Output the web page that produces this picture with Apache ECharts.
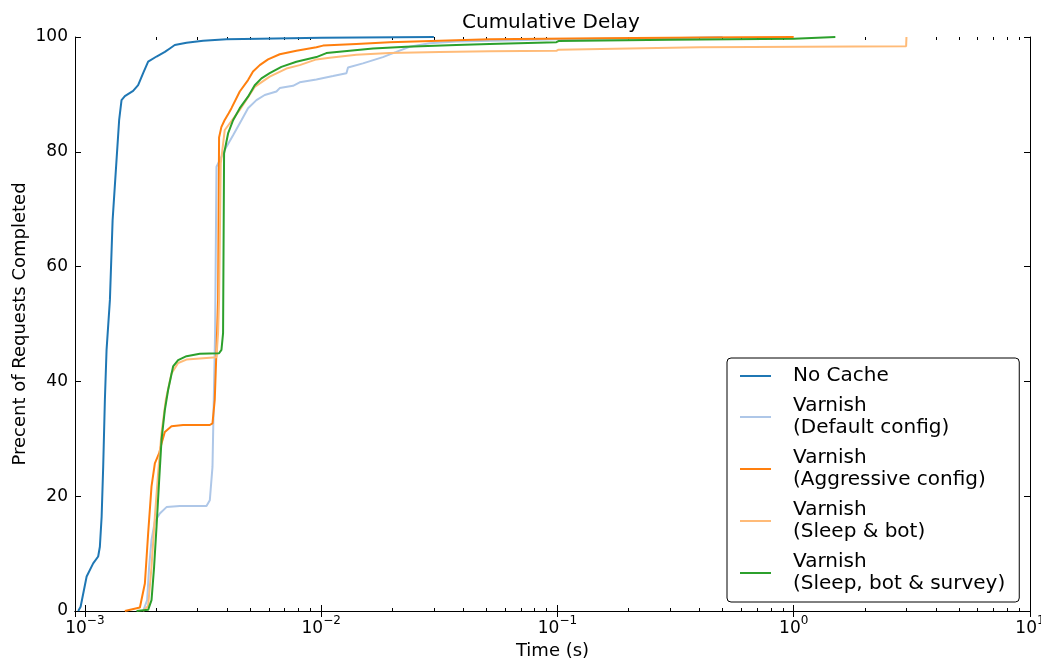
<!DOCTYPE html>
<html>
<head>
<meta charset="utf-8">
<title>Cumulative Delay</title>
<script src="https://cdn.jsdelivr.net/npm/echarts@6/dist/echarts.min.js"></script>
<style>
  html, body { margin: 0; padding: 0; background: #ffffff; }
  #chart { width: 1041px; height: 659px; }
</style>
</head>
<body>
<div id="chart"></div>
<script>
// Series names (as shown in the legend)
const seriesNames = [
  'No Cache',
  'Varnish\n(Default config)',
  'Varnish\n(Aggressive config)',
  'Varnish\n(Sleep & bot)',
  'Varnish\n(Sleep, bot & survey)'
];
const seriesColors = ['#1f77b4', '#aec7e8', '#ff7f0e', '#ffbb78', '#2ca02c'];

// Cumulative distributions: delay in seconds and percent of requests completed
const noCacheTime = [0.000937, 0.000959, 0.001017, 0.001084, 0.001138, 0.001157, 0.001177, 0.001195,
  0.001215, 0.001235, 0.001276, 0.001310, 0.001361, 0.001396, 0.001429, 0.001476, 0.001600,
  0.001680, 0.001764, 0.001852, 0.002010, 0.002180, 0.002288, 0.002401, 0.002692, 0.003164,
  0.003974, 0.005495, 0.0100, 0.0300];
const noCachePct = [0, 0.75, 6.0, 8.3, 9.5, 11.2, 16.4, 25.1,
  36.8, 45.5, 54.2, 68.1, 78.6, 85.5, 89.0, 89.7, 90.6,
  91.6, 93.7, 95.7, 96.6, 97.4, 98.0, 98.6, 99.0, 99.36,
  99.6, 99.7, 99.85, 100];

const defaultTime = [0.001764, 0.001834, 0.001870, 0.001914, 0.001977, 0.002075, 0.002215, 0.002522,
  0.003270, 0.003378, 0.003467, 0.003511, 0.003556, 0.003605, 0.003974, 0.004238, 0.004598,
  0.004903, 0.005321, 0.005769, 0.006466, 0.006677, 0.007601, 0.008112, 0.009544, 0.01122,
  0.01279, 0.01299, 0.01502, 0.01825, 0.0208, 0.02367, 0.02876, 0.0373, 0.06, 0.1, 0.3, 0.5];
const defaultPct = [0, 1.9, 7.7, 12.4, 15.6, 17.0, 18.1, 18.3,
  18.3, 19.3, 25.1, 36.8, 48.4, 77.4, 80.9, 82.9, 85.5,
  87.6, 89.0, 89.9, 90.5, 91.1, 91.5, 92.1, 92.6, 93.2,
  93.7, 94.7, 95.4, 96.5, 97.4, 98.3, 98.9, 99.2, 99.4, 99.6, 99.8, 100];

const aggressiveTime = [0.001476, 0.001709, 0.001794, 0.001852, 0.001914, 0.001977, 0.002062, 0.002110,
  0.002179, 0.002326, 0.002604, 0.003378, 0.003467, 0.003545, 0.003605, 0.003661, 0.003697,
  0.003780, 0.003900, 0.004060, 0.004172, 0.004523, 0.004903, 0.005147, 0.005495, 0.005959, 0.006677,
  0.007855, 0.009544, 0.01018, 0.01409, 0.01949, 0.0317, 0.0516, 0.15, 0.6, 1.0];
const aggressivePct = [0, 0.6, 4.8, 13.5, 21.7, 25.7, 27.5, 29.2,
  31.2, 32.2, 32.4, 32.4, 32.7, 36.8, 45.5, 54.2, 82.5,
  84.3, 85.5, 86.7, 87.6, 90.5, 92.5, 94.0, 95.1, 96.1, 97.0,
  97.6, 98.2, 98.5, 98.8, 99.1, 99.35, 99.6, 99.8, 99.95, 100];

const sleepBotTime = [0.001764, 0.001852, 0.001914, 0.001977, 0.002041, 0.002110, 0.002200, 0.002326,
  0.002480, 0.002692, 0.003605, 0.003661, 0.003697, 0.003758, 0.003908, 0.004523, 0.005233,
  0.006056, 0.007128, 0.008112, 0.009544, 0.01086, 0.01409, 0.01949, 0.0317, 0.0516, 0.099,
  0.101, 0.4, 2.99, 3.0];
const sleepBotPct = [0, 0.9, 7.7, 16.4, 24.0, 31.0, 36.8, 41.4,
  43.2, 43.8, 44.2, 48.4, 54.2, 78.0, 83.8, 87.3, 91.3,
  93.1, 94.5, 95.1, 96.1, 96.4, 96.9, 97.2, 97.4, 97.5, 97.6,
  97.8, 98.2, 98.4, 100];

const surveyTime = [0.001654, 0.001852, 0.001914, 0.001963, 0.002010, 0.002055, 0.002110, 0.002179,
  0.002250, 0.002362, 0.002480, 0.002692, 0.003064, 0.003697, 0.003784, 0.003844, 0.003882,
  0.004036, 0.004238, 0.004523, 0.004903, 0.005233, 0.005588, 0.006056, 0.006786, 0.007855,
  0.009544, 0.01052, 0.0132, 0.01656, 0.02292, 0.0373, 0.0516, 0.099, 0.101, 0.3, 1.0, 1.5];
const surveyPct = [0, 0.2, 1.9, 7.7, 14.7, 21.7, 29.8, 35.0,
  38.5, 42.6, 43.7, 44.4, 44.8, 44.9, 45.5, 48.4, 79.7,
  83.2, 85.5, 87.6, 89.6, 91.6, 92.8, 93.7, 94.8, 95.7,
  96.5, 97.2, 97.6, 98.0, 98.3, 98.6, 98.8, 99.1, 99.3, 99.5, 99.7, 100];

const seriesTimes = [noCacheTime, defaultTime, aggressiveTime, sleepBotTime, surveyTime];
const seriesPcts = [noCachePct, defaultPct, aggressivePct, sleepBotPct, surveyPct];

// Axis ranges and tick labels
const xMin = 0.000908;
const xMax = 10;
const xMajorExponents = [-3, -2, -1, 0, 1];
const yTicks = [0, 20, 40, 60, 80, 100];

const FONT = 'DejaVu Sans';

// Minor tick positions (2..9 within each decade), expressed as log10 values
const minorTicks = [];
for (let e = -4; e < 1; e++) {
  for (let k = 2; k <= 9; k++) {
    const lv = Math.log10(k) + e;
    if (lv >= Math.log10(xMin) && lv <= Math.log10(xMax)) minorTicks.push(lv);
  }
}

const gridRect = { left: 75, right: 11, top: 37, bottom: 48, containLabel: false, outerBoundsMode: 'none' };

function expLabel(v) {
  const e = Math.log10(v);
  const r = Math.round(e);
  if (Math.abs(e - r) > 1e-6 || xMajorExponents.indexOf(r) < 0) return '';
  const s = r < 0 ? '\u2212' + (-r) : String(r);
  return '{b|10}{s|' + s + '}';
}

const chart = echarts.init(document.getElementById('chart'), null, { renderer: 'canvas' });

const option = {
  animation: false,
  backgroundColor: '#ffffff',
  title: {
    text: 'Cumulative Delay',
    left: 462,
    top: 13,
    padding: 0,
    textStyle: { fontFamily: FONT, fontSize: 20, fontWeight: 'normal', color: '#000' }
  },
  grid: [
    Object.assign({ show: false }, gridRect),
    Object.assign({ show: false }, gridRect)
  ],
  legend: {
    orient: 'vertical',
    left: 727,
    top: 358,
    padding: [7, 14, 7, 13],
    itemGap: 8,
    itemWidth: 31,
    itemHeight: 2,
    icon: 'rect',
    borderColor: '#000',
    borderWidth: 1,
    borderRadius: 4,
    backgroundColor: '#ffffff',
    textStyle: { fontFamily: FONT, fontSize: 20, lineHeight: 22, color: '#000', padding: [0, 0, 0, 17] },
    data: seriesNames
  },
  xAxis: [
    {
      gridIndex: 0, type: 'log', logBase: 10, min: xMin, max: xMax, position: 'bottom',
      name: 'Time (s)', nameLocation: 'middle', nameGap: 30,
      nameTextStyle: { fontFamily: FONT, fontSize: 18, color: '#000' },
      axisLine: { show: true, lineStyle: { color: '#000', width: 1 } },
      axisTick: { show: true, inside: true, length: 6, lineStyle: { color: '#000', width: 1 } },
      minorTick: { show: false },
      splitLine: { show: false },
      axisLabel: {
        show: true, margin: 4, formatter: expLabel, showMinLabel: true, showMaxLabel: true,
        hideOverlap: false,
        rich: {
          b: { fontFamily: FONT, fontSize: 17, lineHeight: 22, color: '#000', verticalAlign: 'bottom' },
          s: { fontFamily: FONT, fontSize: 12, lineHeight: 12, color: '#000', verticalAlign: 'top' }
        }
      }
    },
    {
      gridIndex: 0, type: 'log', logBase: 10, min: xMin, max: xMax, position: 'top',
      axisLine: { show: true, lineStyle: { color: '#000', width: 1 } },
      axisTick: { show: true, inside: true, length: 6, lineStyle: { color: '#000', width: 1 } },
      axisLabel: { show: false },
      splitLine: { show: false }
    },
    {
      gridIndex: 1, type: 'value', min: Math.log10(xMin), max: Math.log10(xMax), position: 'bottom',
      axisLine: { show: false },
      axisTick: { show: true, inside: true, length: 3, customValues: minorTicks, lineStyle: { color: '#000', width: 1 } },
      axisLabel: { show: false },
      splitLine: { show: false }
    },
    {
      gridIndex: 1, type: 'value', min: Math.log10(xMin), max: Math.log10(xMax), position: 'top',
      axisLine: { show: false },
      axisTick: { show: true, inside: true, length: 3, customValues: minorTicks, lineStyle: { color: '#000', width: 1 } },
      axisLabel: { show: false },
      splitLine: { show: false }
    }
  ],
  yAxis: [
    {
      gridIndex: 0, type: 'value', min: 0, max: 100, interval: 20, position: 'left',
      name: 'Precent of Requests Completed', nameLocation: 'middle', nameGap: 46,
      nameMoveOverlap: false,
      nameTextStyle: { fontFamily: FONT, fontSize: 18, color: '#000' },
      axisLine: { show: true, lineStyle: { color: '#000', width: 1 } },
      axisTick: { show: true, inside: true, length: 6, lineStyle: { color: '#000', width: 1 } },
      axisLabel: {
        fontFamily: FONT, fontSize: 17, color: '#000', margin: 7,
        customValues: yTicks
      },
      splitLine: { show: false }
    },
    {
      gridIndex: 0, type: 'value', min: 0, max: 100, interval: 20, position: 'right',
      axisLine: { show: true, lineStyle: { color: '#000', width: 1 } },
      axisTick: { show: true, inside: true, length: 6, lineStyle: { color: '#000', width: 1 } },
      axisLabel: { show: false },
      splitLine: { show: false }
    },
    {
      gridIndex: 1, type: 'value', min: 0, max: 100, show: false
    }
  ],
  series: seriesNames.map((name, i) => ({
    name: name,
    type: 'line',
    xAxisIndex: 0,
    yAxisIndex: 0,
    data: seriesTimes[i].map((t, j) => [t, seriesPcts[i][j]]),
    symbol: 'none',
    showSymbol: false,
    smooth: false,
    clip: true,
    color: seriesColors[i],
    lineStyle: { color: seriesColors[i], width: 2 },
    itemStyle: { color: seriesColors[i] },
    emphasis: { disabled: true }
  }))
};

chart.setOption(option);
</script>
</body>
</html>
